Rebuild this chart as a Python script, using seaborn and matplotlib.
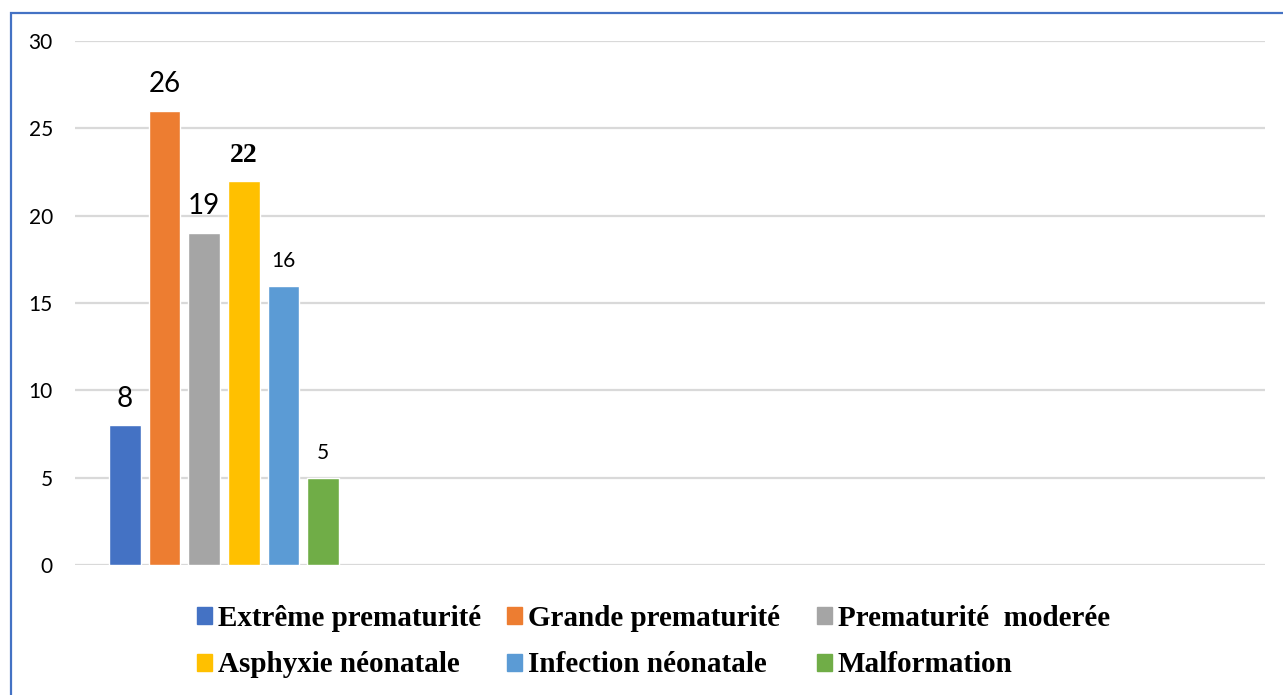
import matplotlib
matplotlib.use("Agg")
import matplotlib.pyplot as plt
import matplotlib.patches as mpatches
import seaborn as sns
import pandas as pd

# ---- data ----
categories = ["Extrême prematurité", "Grande prematurité", "Prematurité  moderée",
              "Asphyxie néonatale", "Infection néonatale", "Malformation"]
values = [8, 26, 19, 22, 16, 5]
colors = ["#4472C4", "#ED7D31", "#A5A5A5", "#FFC000", "#5B9BD5", "#70AD47"]
yticks = [0, 5, 10, 15, 20, 25, 30]

# per-label text style (as in the reference)
label_styles = [
    dict(family="Lato", size=20, weight="normal"),
    dict(family="Lato", size=20, weight="normal"),
    dict(family="Lato", size=20, weight="normal"),
    dict(family="Liberation Serif", size=20, weight="bold"),
    dict(family="Lato", size=15, weight="normal"),
    dict(family="Lato", size=15, weight="normal"),
]

sns.set_theme(style="white")
plt.rcParams["font.family"] = ["Lato", "DejaVu Sans"]
plt.rcParams["text.color"] = "#000000"

W, H = 1283, 695
fig = plt.figure(figsize=(W / 100, H / 100), dpi=100)
ax = fig.add_axes([75 / W, (H - 565) / H, (1265 - 75) / W, (565 - 41) / H])

df = pd.DataFrame({"cat": categories, "val": values})
sns.barplot(data=df, x="cat", y="val", hue="cat", palette=colors,
            hue_order=categories, order=categories, saturation=1,
            width=0.8, legend=False, ax=ax, zorder=3)

ax.set_xlim(-1.263, 28.79)
ax.set_ylim(0, 30)
ax.set_yticks(yticks)
ax.set_yticklabels([str(t) for t in yticks], fontsize=15, color="#000000")
ax.tick_params(axis="y", length=0, pad=16)
ax.set_xticks([])
ax.set_xlabel("")
ax.set_ylabel("")
for s in ax.spines.values():
    s.set_visible(False)
ax.yaxis.grid(True, color="#D9D9D9", linewidth=1.6, zorder=0)
ax.set_axisbelow(True)

# value labels
bars = [p for p in ax.patches if p.get_height() > 0]
bars.sort(key=lambda p: p.get_x())
for p, v, st in zip(bars, values, label_styles):
    ax.annotate(str(v), (p.get_x() + p.get_width() / 2, p.get_height()),
                xytext=(0, 13.5), textcoords="offset points",
                ha="center", va="baseline", color="#000000",
                fontfamily=st["family"], fontsize=st["size"], fontweight=st["weight"])

# legend: 3 columns x 2 rows
col_x = [197, 507, 817]
row_y = [618, 665]
for i, (p, lab) in enumerate(zip(bars, categories)):
    r, c = divmod(i, 3)
    fig.legend(handles=[mpatches.Patch(color=colors[i])], labels=[lab],
               loc="center left", bbox_to_anchor=(col_x[c] / W, 1 - row_y[r] / H),
               frameon=False, borderpad=0, borderaxespad=0,
               handlelength=0.52, handleheight=0.52, handletextpad=0.2,
               labelcolor="#000000",
               prop=dict(family="Liberation Serif", weight="bold", size=21))

# blue outer border (left and top visible)
fig.patches.append(mpatches.Rectangle((10.5 / W, -0.2), 1.5, 0.2 + (H - 12.5) / H,
                                      transform=fig.transFigure, fill=False,
                                      edgecolor="#4472C4", linewidth=1.6, zorder=10))

fig.savefig("out.png", dpi=100)
